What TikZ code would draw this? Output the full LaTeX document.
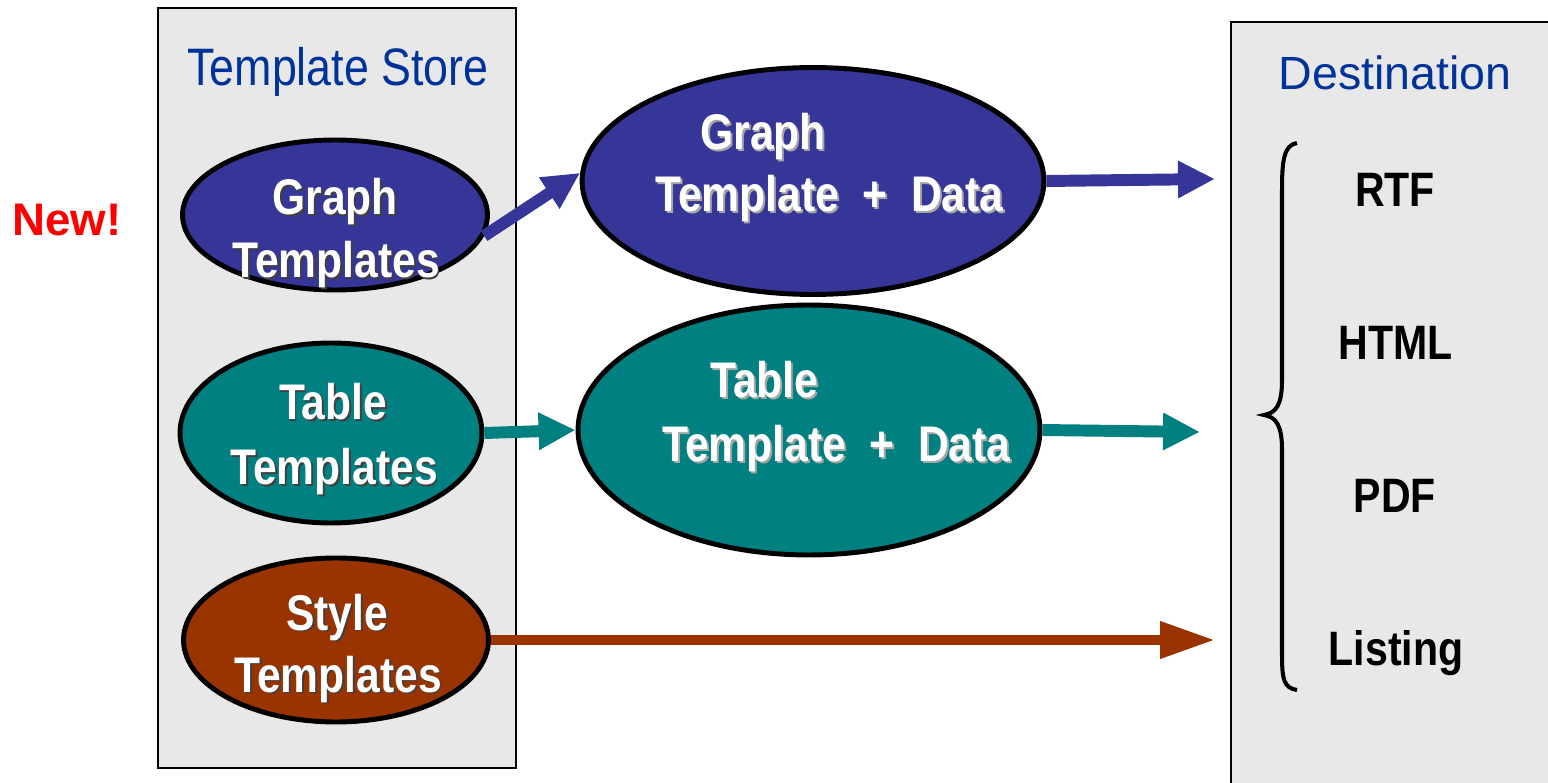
\documentclass[tikz,border=0pt]{standalone}
\usepackage{fontspec}
\setmainfont{Liberation Sans}
\newfontfamily\narrowfont[FakeStretch=0.85]{Liberation Sans}
\usepackage{xcolor}
\usepackage{tikz}
\usetikzlibrary{shapes.geometric, arrows.meta, positioning}
\definecolor{graphblue}{HTML}{363699}
\definecolor{tableteal}{HTML}{008080}
\definecolor{stylebrown}{HTML}{993300}
\definecolor{titleblue}{HTML}{003399}
\definecolor{storegray}{HTML}{E8E8E8}
\newcommand{\shad}[2][black!75]{\makebox[0pt][l]{\kern1.1pt\raisebox{-1.1pt}{\textcolor{#1}{#2}}}#2}
\tikzset{
    storebox/.style = {draw=black, line width=1.1pt, fill=storegray},
    tmpl/.style = {ellipse, draw=black, line width=2.8pt, inner sep=0pt},
    smalltmpl/.style = {tmpl, minimum width=6.1cm, minimum height=3.0cm},
    bigtmpl/.style = {tmpl, minimum width=9.24cm, minimum height=4.6cm},
    intext/.style = {text=white, anchor=base, inner sep=0pt,
        font=\narrowfont\bfseries\fontsize{28.5}{32}\selectfont},
    bigtext/.style = {intext, anchor=base west,
        font=\narrowfont\bfseries\fontsize{28.5}{33}\selectfont},
    title/.style = {text=titleblue, anchor=base, inner sep=0pt},
    fmt/.style = {anchor=base, inner sep=0pt,
        font=\narrowfont\bfseries\fontsize{27.5}{32}\selectfont},
    flow/.style = {line width=6.8pt, -{Triangle[length=7.4mm, width=7mm]}},
}
\begin{document}
\begin{tikzpicture}[x=0.02cm, y=-0.02cm]
        \useasboundingbox (0,0) rectangle (1548,783);
        \draw[storebox] (158,8) rectangle (516,768);
        \draw[storebox] (1231,22) rectangle (1600,820);
        \node (store) [title, font=\narrowfont\fontsize{30}{36}\selectfont] at (338,86) {Template Store};
        \node (dest) [title, font=\fontsize{26.5}{32}\selectfont] at (1395,90) {Destination};
        \node (new) [anchor=base west, inner sep=0pt, text=red,
            font=\bfseries\fontsize{26}{30}\selectfont] at (12,236) {New!};

        \node (gt) [smalltmpl, fill=graphblue] at (335,215) {};
        \node (tt) [smalltmpl, fill=tableteal, minimum width=6.04cm, minimum height=3.6cm] at (331,433) {};
        \node (st) [smalltmpl, fill=stylebrown, minimum height=3.28cm] at (336,640) {};
        \node (gd) [bigtmpl, fill=graphblue, minimum height=4.54cm] at (813,181) {};
        \node (td) [bigtmpl, fill=tableteal, minimum height=5cm] at (809,430) {};

        \node (gt1) [intext] at (335,215) {\shad{Graph}};
        \node (gt2) [intext] at (336,278) {\shad{Templates}};
        \node (tt1) [intext] at (333,420) {\shad{Table}};
        \node (tt2) [intext] at (334,485) {\shad{Templates}};
        \node (st1) [intext] at (337,630) {\shad{Style}};
        \node (st2) [intext] at (338,692) {\shad{Templates}};
        \node (gd1) [bigtext] at (700,150) {\shad[black!35]{Graph}};
        \node (gd2) [bigtext] at (655,212) {\shad[black!35]{Template\ \ +\ \ Data}};
        \node (td1) [bigtext] at (710,398) {\shad[black!35]{Table}};
        \node (td2) [bigtext] at (662,462) {\shad[black!35]{Template\ \ +\ \ Data}};

        \node (rtf) [fmt] at (1395,207) {RTF};
        \node (html) [fmt] at (1396,360) {HTML};
        \node (pdf) [fmt] at (1395,513) {PDF};
        \node (listing) [fmt] at (1396,665) {Listing};

        \coordinate (rtfin) at (1215,179);
        \coordinate (htmlin) at (1200,432);
        \coordinate (pdfin) at (1215,640);
        \draw[flow, graphblue] (gt.-8) -- (gd.178);
        \draw[flow, graphblue] (gd.east) -- (rtfin);
        \draw[flow, tableteal] (tt.east) -- (td.west);
        \draw[flow, tableteal] (td.east) -- (htmlin);
        \draw[flow, stylebrown, line width=5.7pt, -{Triangle[length=11mm, width=7mm]}] (st.east) -- (pdfin);

        \draw[line width=2.3pt] (1297,143) .. controls (1284,145) and (1282,160) .. (1282,190)
            -- (1282,380) .. controls (1282,405) and (1276,413) .. (1264,415)
            .. controls (1276,417) and (1282,425) .. (1282,450)
            -- (1282,655) .. controls (1282,680) and (1284,688) .. (1297,690);
\end{tikzpicture}
\end{document}
